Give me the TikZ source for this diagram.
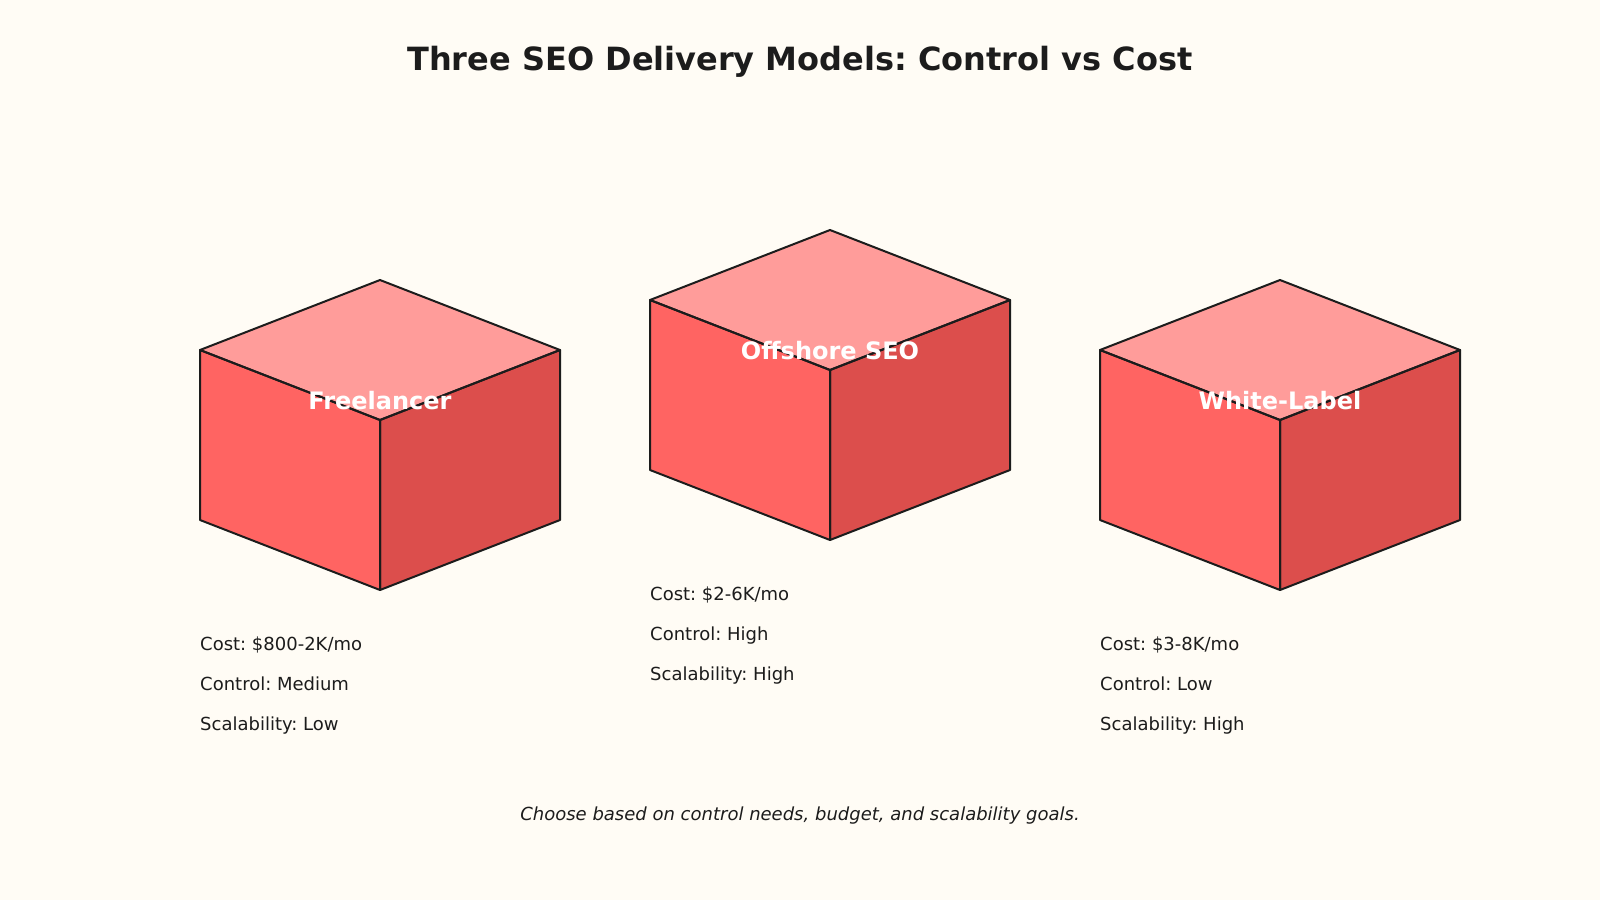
\documentclass[tikz,border=0pt]{standalone}
\usepackage{fontspec}
\setmainfont{DejaVu Sans}
\frenchspacing
\definecolor{bg}{HTML}{FFFCF5}
\definecolor{ink}{HTML}{1C1C1C}
\definecolor{topface}{HTML}{FF9C9A}
\definecolor{leftface}{HTML}{FF6462}
\definecolor{rightface}{HTML}{DC4E4C}
\begin{document}
\begin{tikzpicture}[x=1pt,y=-1pt,
  edge/.style={draw=ink,line width=2pt,line join=round},
  cubelabel/.style={text=white,font=\fontsize{24}{28}\selectfont\bfseries,anchor=base},
  info/.style={text=ink,font=\fontsize{18}{22}\selectfont,anchor=base west,inner sep=0pt},
  titletext/.style={text=ink,font=\fontsize{32}{38}\selectfont\bfseries,anchor=base},
  foot/.style={text=ink,font=\fontsize{18}{22}\selectfont\itshape,anchor=base}]
\fill[bg] (0,0) rectangle (1600,900);
\useasboundingbox (0,0) rectangle (1600,900);
\node[titletext] (title) at (800,70) {Three SEO Delivery Models: Control vs Cost};
\tikzset{cube/.pic={
  \fill[leftface] (-180,0) -- (0,70) -- (0,240) -- (-180,170) -- cycle;
  \fill[rightface] (180,0) -- (0,70) -- (0,240) -- (180,170) -- cycle;
  \fill[topface] (0,-70) -- (180,0) -- (0,70) -- (-180,0) -- cycle;
  \draw[edge] (-180,0) -- (0,70) -- (0,240) -- (-180,170) -- cycle;
  \draw[edge] (180,0) -- (0,70) -- (0,240) -- (180,170) -- cycle;
  \draw[edge] (0,-70) -- (180,0) -- (0,70) -- (-180,0) -- cycle;
}}
\pic at (380,350) {cube};
\pic at (830,300) {cube};
\pic at (1280,350) {cube};
\node[cubelabel] (l1) at (380,409.5) {Freelancer};
\node[cubelabel] (l2) at (830,359.5) {Offshore SEO};
\node[cubelabel] (l3) at (1280,409.5) {White-Label};
\node[info] (a1) at (200,650) {Cost: \$800-2K/mo};
\node[info] (a2) at (200,690) {Control: Medium};
\node[info] (a3) at (200,730) {Scalability: Low};
\node[info] (b1) at (650,600) {Cost: \$2-6K/mo};
\node[info] (b2) at (650,640) {Control: High};
\node[info] (b3) at (650,680) {Scalability: High};
\node[info] (c1) at (1100,650) {Cost: \$3-8K/mo};
\node[info] (c2) at (1100,690) {Control: Low};
\node[info] (c3) at (1100,730) {Scalability: High};
\node[foot] (note) at (800,820) {Choose based on control needs, budget, and scalability goals.};
\end{tikzpicture}
\end{document}
